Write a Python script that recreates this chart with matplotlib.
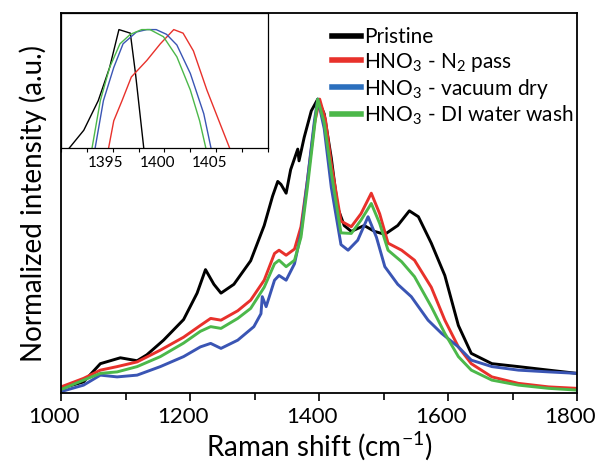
import matplotlib
matplotlib.use("Agg")
import matplotlib.pyplot as plt
import matplotlib.transforms as mtransforms
from matplotlib.ticker import MultipleLocator

plt.rcParams["font.family"] = ["Lato", "DejaVu Sans"]
plt.rcParams["mathtext.fontset"] = "custom"
plt.rcParams["mathtext.rm"] = "Lato"
plt.rcParams["mathtext.default"] = "regular"

# main spectra, peak normalised to 1
pristine_x = [1000, 1035, 1061, 1092, 1118, 1133, 1159, 1190, 1211, 1224, 1237, 1248,
              1268, 1294, 1315, 1328, 1336, 1341, 1349, 1356, 1367, 1369, 1377, 1388,
              1398, 1408, 1419, 1429, 1439, 1450, 1470, 1486, 1502, 1522, 1540, 1554,
              1574, 1595, 1616, 1636, 1668, 1709, 1756, 1800]
pristine_y = [0.016, 0.038, 0.10, 0.12, 0.11, 0.13, 0.18, 0.25, 0.34, 0.42, 0.37, 0.34,
              0.37, 0.45, 0.57, 0.67, 0.72, 0.71, 0.68, 0.76, 0.83, 0.79, 0.87, 0.96,
              1.0, 0.95, 0.80, 0.63, 0.57, 0.55, 0.57, 0.55, 0.54, 0.57, 0.62, 0.60,
              0.51, 0.40, 0.23, 0.135, 0.10, 0.09, 0.078, 0.067]

n2_x = [1000, 1035, 1061, 1087, 1118, 1154, 1190, 1216, 1232, 1248, 1274, 1294, 1315,
        1331, 1338, 1349, 1362, 1372, 1382, 1393, 1401, 1410, 1419, 1434, 1450, 1465,
        1481, 1494, 1507, 1528, 1548, 1574, 1595, 1616, 1636, 1668, 1709, 1756, 1800]
n2_y = [0.021, 0.05, 0.078, 0.09, 0.106, 0.146, 0.19, 0.23, 0.254, 0.248, 0.28, 0.316,
        0.384, 0.475, 0.486, 0.469, 0.49, 0.566, 0.724, 0.917, 1.0, 0.93, 0.78, 0.585,
        0.566, 0.61, 0.68, 0.61, 0.51, 0.486, 0.452, 0.36, 0.248, 0.157, 0.10, 0.055,
        0.033, 0.021, 0.016]

vac_x = [1000, 1035, 1061, 1087, 1118, 1154, 1190, 1216, 1232, 1248, 1274, 1299, 1310,
         1312, 1318, 1331, 1338, 1349, 1362, 1372, 1382, 1393, 1398, 1408, 1419, 1434,
         1445, 1460, 1476, 1489, 1502, 1522, 1543, 1569, 1590, 1616, 1636, 1668, 1709,
         1756, 1800]
vac_y = [0.005, 0.027, 0.061, 0.055, 0.061, 0.09, 0.124, 0.157, 0.169, 0.152, 0.18,
         0.226, 0.27, 0.328, 0.294, 0.384, 0.40, 0.384, 0.44, 0.543, 0.724, 0.929, 1.0,
         0.90, 0.70, 0.505, 0.486, 0.52, 0.60, 0.53, 0.43, 0.37, 0.328, 0.248, 0.203,
         0.157, 0.112, 0.09, 0.078, 0.072, 0.067]

di_x = [1000, 1035, 1061, 1087, 1118, 1154, 1190, 1216, 1232, 1248, 1274, 1294, 1315,
        1331, 1338, 1349, 1362, 1372, 1382, 1393, 1398, 1408, 1419, 1434, 1450, 1465,
        1481, 1494, 1507, 1528, 1548, 1574, 1595, 1616, 1636, 1668, 1709, 1756, 1800]
di_y = [0.012, 0.044, 0.067, 0.072, 0.09, 0.124, 0.17, 0.21, 0.226, 0.22, 0.254, 0.288,
        0.36, 0.44, 0.452, 0.43, 0.452, 0.53, 0.70, 0.906, 1.0, 0.92, 0.75, 0.545, 0.543,
        0.588, 0.645, 0.577, 0.486, 0.447, 0.396, 0.294, 0.203, 0.124, 0.078, 0.044,
        0.027, 0.016, 0.01]

# inset: zoom on the peak top
ins_pristine_x = [1390.8, 1392.2, 1393.6, 1394.7, 1395.6, 1396.7, 1397.2, 1398.0]
ins_pristine_y = [0.0, 0.15, 0.40, 0.68, 1.0, 0.97, 0.63, 0.0]
ins_n2_x = [1394.6, 1395.1, 1395.9, 1396.8, 1398.3, 1399.6, 1400.9, 1401.8, 1402.8,
            1404.1, 1405.4, 1406.3]
ins_n2_y = [0.0, 0.23, 0.40, 0.60, 0.74, 0.88, 1.0, 0.97, 0.82, 0.49, 0.20, 0.0]
ins_vac_x = [1393.3, 1394.1, 1395.1, 1396.0, 1397.3, 1398.3, 1399.2, 1400.2, 1401.2,
             1402.5, 1403.8, 1404.5]
ins_vac_y = [0.0, 0.40, 0.68, 0.88, 0.98, 1.0, 1.0, 0.96, 0.87, 0.63, 0.29, 0.0]
ins_di_x = [1393.0, 1393.8, 1394.7, 1395.7, 1396.7, 1397.8, 1398.6, 1399.9, 1401.2,
            1402.5, 1403.4, 1404.0]
ins_di_y = [0.0, 0.40, 0.68, 0.88, 0.96, 1.0, 1.0, 0.94, 0.77, 0.49, 0.23, 0.0]

labels = ["Pristine", r"HNO$_3$ - N$_2$ pass", r"HNO$_3$ - vacuum dry",
          r"HNO$_3$ - DI water wash"]
colors = ["#000000", "#e8312b", "#3a55b4", "#4cb84a"]
legend_colors = ["#000000", "#e8312b", "#2b6fbd", "#4cb84a"]

fig = plt.figure(figsize=(5.98, 4.73), dpi=100)
ax = fig.add_axes([0.102, 0.169, 0.863, 0.8035])

series = [(pristine_x, pristine_y), (n2_x, n2_y), (vac_x, vac_y), (di_x, di_y)]
for (xs, ys), c in zip(series, colors):
    ax.plot(xs, ys, color=c, lw=2.1, solid_joinstyle="round")

ax.set_xlim(1000, 1800)
ax.set_ylim(0, 1.293)
ax.set_yticks([])
ax.xaxis.set_major_locator(MultipleLocator(200))
ax.xaxis.set_minor_locator(MultipleLocator(100))
ax.tick_params(axis="x", which="major", direction="out", length=6, width=1.2,
               labelsize=16, pad=4)
ax.tick_params(axis="x", which="minor", direction="out", length=5, width=1.2)
for sp in ax.spines.values():
    sp.set_linewidth(1.3)
ax.set_xlabel(r"Raman shift (cm$^{-1}$)", fontsize=20, labelpad=2)
ax.set_ylabel("Normalized intensity (a.u.)", fontsize=20, labelpad=10)

# labels sit a few pixels left of their ticks in the original
shift = mtransforms.ScaledTranslation(-0.07, 0, fig.dpi_scale_trans)
for lab in ax.get_xticklabels():
    lab.set_transform(lab.get_transform() + shift)

handles = [plt.Line2D([], [], color=c, lw=4) for c in legend_colors]
ax.legend(handles, labels, loc="upper left", bbox_to_anchor=(0.5, 0.995),
          frameon=False, fontsize=15, handlelength=1.4, handletextpad=0.15,
          labelspacing=0.15, borderaxespad=0.2)

ins = fig.add_axes([0.102, 0.687, 0.346, 0.2855])
ins_series = [(ins_pristine_x, ins_pristine_y), (ins_n2_x, ins_n2_y),
              (ins_vac_x, ins_vac_y), (ins_di_x, ins_di_y)]
for (xs, ys), c in zip(ins_series, colors):
    ins.plot(xs, ys, color=c, lw=1.0)
ins.set_xlim(1390, 1410)
ins.set_ylim(0, 1.14)
ins.set_yticks([])
ins.xaxis.set_minor_locator(MultipleLocator(2.5))
ins.set_xticks([1395, 1400, 1405])
ins.tick_params(axis="x", which="both", direction="out", length=3, width=0.8,
                labelsize=11, pad=3)
for lab in ins.get_xticklabels():
    lab.set_transform(lab.get_transform() + shift)
for sp in ins.spines.values():
    sp.set_linewidth(0.9)

fig.savefig("out.png", dpi=100)
